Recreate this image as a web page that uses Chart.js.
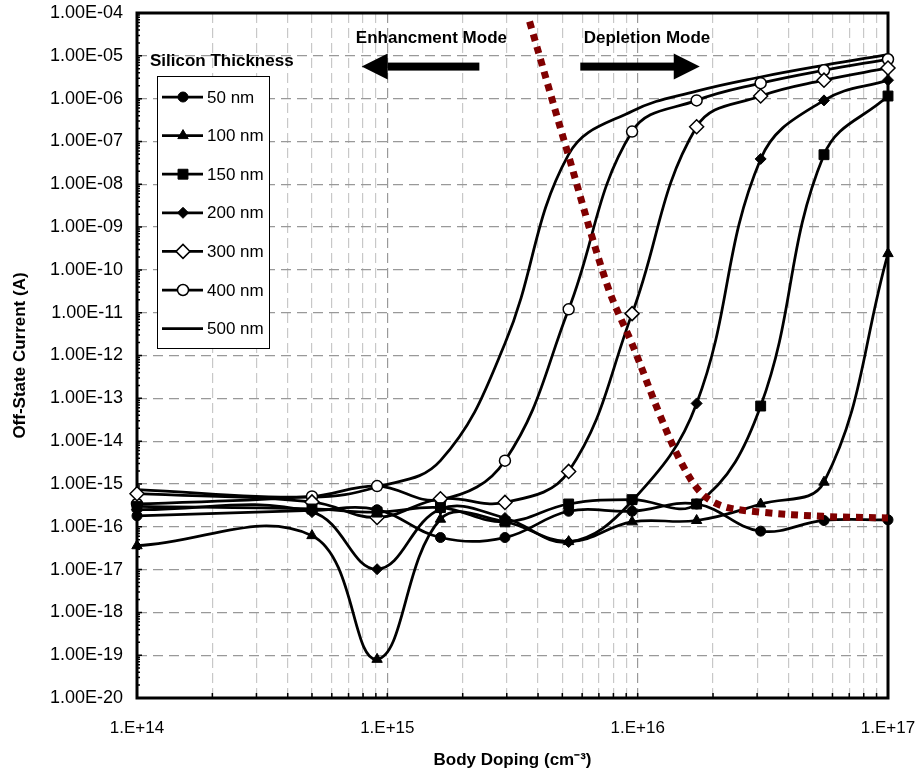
<!DOCTYPE html>
<html>
<head>
<meta charset="utf-8">
<script src="https://cdn.jsdelivr.net/npm/chart.js@4.4.1/dist/chart.umd.min.js"></script>
<style>
  html, body { margin: 0; padding: 0; background: #fff; }
  #wrap { width: 918px; height: 773px; }
</style>
</head>
<body>
<div id="wrap"><canvas id="offState" width="918" height="773"></canvas></div>
<script>
// Body doping levels (cm^-3), shared by every thickness series
const doping = [1e14, 5.0e14, 9.1e14, 1.63e15, 2.95e15, 5.3e15, 9.5e15, 1.72e16, 3.1e16, 5.55e16, 1e17];

// Off-state current (A) per silicon thickness
const i50nm  = [1.8e-16, 2.4e-16, 2.5e-16, 5.6e-17, 5.6e-17, 2.3e-16, 2.3e-16, 3.4e-16, 7.9e-17, 1.4e-16, 1.45e-16];
const i100nm = [3.6e-17, 6.2e-17, 8e-20, 1.5e-16, 1.3e-16, 4.5e-17, 1.3e-16, 1.4e-16, 3.4e-16, 1.1e-15, 2.4e-10];
const i150nm = [3e-16, 2.6e-16, 2.2e-16, 2.8e-16, 1.3e-16, 3.4e-16, 4.3e-16, 3.4e-16, 6.6e-14, 4.9e-8, 1.15e-6];
const i200nm = [2.5e-16, 2.2e-16, 1.02e-17, 2.6e-16, 1.6e-16, 4.4e-17, 4e-16, 7.6e-14, 3.9e-8, 9.1e-7, 2.7e-6];
const i300nm = [5.9e-16, 3.8e-16, 1.65e-16, 4.5e-16, 3.7e-16, 1.96e-15, 9.5e-12, 2.2e-7, 1.15e-6, 2.7e-6, 5.2e-6];
const i400nm = [3.4e-16, 5.1e-16, 8.9e-16, 4.3e-16, 3.5e-15, 1.2e-11, 1.7e-7, 9.1e-7, 2.3e-6, 4.6e-6, 8.3e-6];
const i500nm = [7.4e-16, 4.9e-16, 8.5e-16, 3.5e-15, 1.9e-12, 5e-8, 5.1e-7, 1.5e-6, 3.2e-6, 6e-6, 1.07e-5];

// Enhancement / depletion boundary (red dotted curve)
const boundaryDoping  = [3.7e15, 5.25e15, 7.6e15, 9.6e15, 1.24e16, 1.5e16, 1.8e16, 2.2e16, 3.1e16, 5.5e16, 1e17];
const boundaryCurrent = [6.3e-5, 5.5e-8, 4e-11, 1.6e-12, 3.5e-14, 3e-15, 6e-16, 3e-16, 2.2e-16, 1.75e-16, 1.6e-16];

const thicknessLabels = ['50 nm', '100 nm', '150 nm', '200 nm', '300 nm', '400 nm', '500 nm'];

// where the "mode" annotations sit, in data units
const modeTextY = 2.6e-5;
const arrowY = 5.6e-6;

const FONT = "'Liberation Sans', Arial, sans-serif";

function series(label, data, style, radius, filled) {
    return {
        label: label,
        data: data.map((v, i) => ({ x: doping[i], y: v })),
        borderColor: '#000',
        borderWidth: 2.75,
        tension: 0.4,
        fill: false,
        clip: false,
        pointStyle: style,
        pointRadius: radius,
        pointBorderWidth: filled ? 1 : 1.5,
        pointBorderColor: '#000',
        pointBackgroundColor: filled ? '#000' : '#fff',
        order: 1
    };
}

const thickSets = [
    series(thicknessLabels[0], i50nm, 'circle', 5, true),
    series(thicknessLabels[1], i100nm, 'triangle', 6, true),
    series(thicknessLabels[2], i150nm, 'rect', 7, true),
    series(thicknessLabels[3], i200nm, 'rectRot', 5.5, true),
    series(thicknessLabels[4], i300nm, 'rectRot', 7, false),
    series(thicknessLabels[5], i400nm, 'circle', 5.5, false),
    series(thicknessLabels[6], i500nm, false, 0, true)
];

const boundarySet = {
    label: 'boundary',
    data: boundaryDoping.map((x, i) => ({ x: x, y: boundaryCurrent[i] })),
    borderColor: '#800000',
    borderWidth: 7,
    borderDash: [7, 6],
    borderCapStyle: 'butt',
    tension: 0.35,
    pointRadius: 0,
    fill: false,
    clip: false,
    order: 0
};

function decadeTicks(lo, hi, withMinor) {
    const t = [];
    for (let e = lo; e < hi; e++) {
        const steps = withMinor ? 9 : 1;
        for (let m = 1; m <= steps; m++) t.push({ value: m * Math.pow(10, e), major: m === 1 });
    }
    t.push({ value: Math.pow(10, hi), major: true });
    return t;
}

function yLabel(v) {
    const e = Math.round(Math.log10(v));
    return '1.00E' + (e < 0 ? '-' : '+') + String(Math.abs(e)).padStart(2, '0');
}

// frame and inward minor ticks
const framePlugin = {
    id: 'frame',
    beforeDatasetsDraw(chart) {
        const { ctx, chartArea: a, scales } = chart;
        ctx.save();
        ctx.strokeStyle = '#000';
        ctx.lineWidth = 1.5;
        ctx.beginPath();
        decadeTicks(14, 17, true).forEach(t => {
            const px = scales.x.getPixelForValue(t.value);
            ctx.moveTo(px, a.bottom);
            ctx.lineTo(px, a.bottom - 5);
        });
        decadeTicks(-20, -4, true).forEach(t => {
            const py = scales.y.getPixelForValue(t.value);
            ctx.moveTo(a.left, py);
            ctx.lineTo(a.left + (t.major ? 5 : 3), py);
        });
        ctx.stroke();
        ctx.lineWidth = 3;
        ctx.strokeRect(a.left, a.top, a.right - a.left, a.bottom - a.top);
        ctx.restore();
    }
};

function drawArrow(ctx, x0, x1, y) {
    const dir = x1 > x0 ? 1 : -1;
    const head = 26;
    ctx.fillRect(Math.min(x0, x1 - dir * head), y - 4, Math.abs(x1 - x0) - head + 1, 8);
    ctx.beginPath();
    ctx.moveTo(x1, y);
    ctx.lineTo(x1 - dir * head, y - 13);
    ctx.lineTo(x1 - dir * head, y + 13);
    ctx.closePath();
    ctx.fill();
}

// annotations + in-plot legend
const notesPlugin = {
    id: 'notes',
    afterDatasetsDraw(chart) {
        const { ctx, chartArea: a, scales } = chart;
        const sx = scales.x, sy = scales.y;
        ctx.save();
        ctx.fillStyle = '#000';
        ctx.font = 'bold 17px ' + FONT;
        ctx.textBaseline = 'middle';
        ctx.textAlign = 'center';
        const ty = sy.getPixelForValue(modeTextY);
        ctx.fillText('Enhancment Mode', sx.getPixelForValue(1.5e15), ty);
        ctx.fillText('Depletion Mode', sx.getPixelForValue(1.09e16), ty);

        const ay = sy.getPixelForValue(arrowY);
        drawArrow(ctx, sx.getPixelForValue(2.31e15), sx.getPixelForValue(7.9e14), ay);
        drawArrow(ctx, sx.getPixelForValue(5.9e15), sx.getPixelForValue(1.77e16), ay);

        // legend
        ctx.textAlign = 'left';
        ctx.fillText('Silicon Thickness', a.left + 13, a.top + 48);
        const bx = a.left + 20, by = a.top + 63, bw = 112, bh = 272;
        ctx.fillStyle = '#fff';
        ctx.fillRect(bx, by, bw, bh);
        ctx.strokeStyle = '#000';
        ctx.lineWidth = 1;
        ctx.strokeRect(bx + 0.5, by + 0.5, bw, bh);
        ctx.font = '17px ' + FONT;
        thickSets.forEach((ds, i) => {
            const ry = by + 21 + i * 38.6;
            ctx.strokeStyle = '#000';
            ctx.lineWidth = 2.75;
            ctx.beginPath();
            ctx.moveTo(bx + 5, ry);
            ctx.lineTo(bx + 46, ry);
            ctx.stroke();
            if (ds.pointStyle) {
                ctx.fillStyle = ds.pointBackgroundColor;
                ctx.lineWidth = ds.pointBorderWidth;
                Chart.helpers.drawPoint(ctx, { pointStyle: ds.pointStyle, radius: ds.pointRadius, rotation: 0, borderWidth: ds.pointBorderWidth }, bx + 26, ry);
            }
            ctx.fillStyle = '#000';
            ctx.fillText(ds.label, bx + 50, ry + 1);
        });
        ctx.restore();
    }
};

new Chart(document.getElementById('offState'), {
    type: 'line',
    data: { datasets: [boundarySet].concat(thickSets) },
    options: {
        responsive: false,
        animation: false,
        devicePixelRatio: 1,
        layout: { padding: { left: 0, right: 30, top: 13, bottom: 0 } },
        plugins: { legend: { display: false }, tooltip: { enabled: false } },
        scales: {
            x: {
                type: 'logarithmic',
                min: 1e14,
                max: 1e17,
                afterBuildTicks: (s) => { s.ticks = decadeTicks(14, 17, true); },
                afterFit: (s) => { s.height = 75; },
                ticks: {
                    autoSkip: false,
                    maxRotation: 0,
                    padding: 2,
                    color: '#000',
                    font: { family: FONT, size: 17 },
                    callback: (v, i, ticks) => ticks[i].major ? '1.E+' + Math.round(Math.log10(v)) : ''
                },
                grid: {
                    drawTicks: true,
                    tickLength: 18,
                    tickColor: 'rgba(0,0,0,0)',
                    lineWidth: 1.2,
                    color: (c) => (c.tick && c.tick.major) ? '#999' : '#c8c8c8'
                },
                border: { display: false, dash: [10, 5] },
                title: {
                    display: true,
                    text: 'Body Doping (cm⁻³)',
                    color: '#000',
                    font: { family: FONT, size: 17, weight: 'bold' },
                    padding: { top: 0, bottom: 2 }
                }
            },
            y: {
                type: 'logarithmic',
                min: 1e-20,
                max: 1e-4,
                afterBuildTicks: (s) => { s.ticks = decadeTicks(-20, -4, false); },
                afterFit: (s) => { s.width = 137; },
                ticks: {
                    autoSkip: false,
                    padding: 2,
                    color: '#000',
                    font: { family: FONT, size: 18 },
                    callback: (v) => yLabel(v)
                },
                grid: { drawTicks: true, tickLength: 12, tickColor: 'rgba(0,0,0,0)', lineWidth: 1.2, color: '#999' },
                border: { display: false, dash: [10, 6] },
                title: {
                    display: true,
                    text: 'Off-State Current (A)',
                    color: '#000',
                    font: { family: FONT, size: 17, weight: 'bold' },
                    padding: { top: 10, bottom: 0 }
                }
            }
        }
    },
    plugins: [framePlugin, notesPlugin]
});
</script>
</body>
</html>
